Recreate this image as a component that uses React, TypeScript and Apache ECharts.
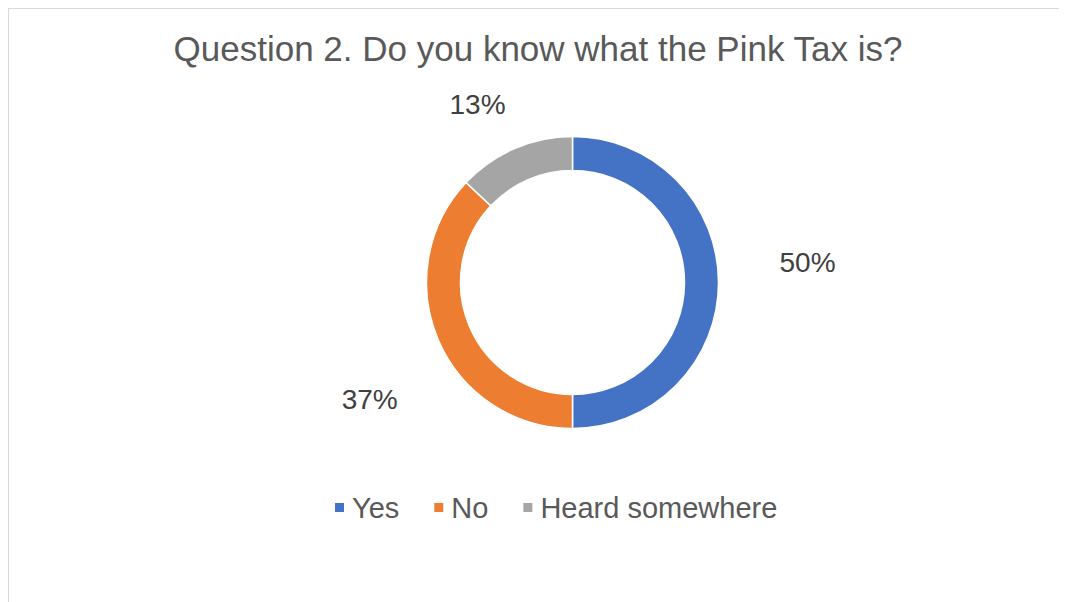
import React, { useEffect, useRef } from "react";
import * as echarts from "echarts";

const TITLE = "Question 2. Do you know what the Pink Tax is?";
const categories = ["Yes", "No", "Heard somewhere"];
const values = [50, 37, 13];
const colors = ["#4472C4", "#ED7D31", "#A5A5A5"];

// label nudges relative to the library's outside label position (px)
const labelNudgeX = [41, -22, 2];
const labelNudgeY = [-20, 53, -30];

const FONT = "'Liberation Sans', Arial, sans-serif";

export default function App() {
  const ref = useRef<HTMLDivElement>(null);
  useEffect(() => {
    if (!ref.current) return;
    const chart = echarts.init(ref.current, undefined, { renderer: "svg" });
    const total = values.reduce((a, b) => a + b, 0);
    chart.setOption({
      animation: false,
      backgroundColor: "#ffffff",
      title: {
        text: TITLE,
        left: "center",
        top: 17,
        textStyle: {
          fontFamily: FONT,
          fontSize: 35,
          fontWeight: "normal",
          color: "#595959",
        },
      },
      legend: {
        data: categories,
        left: 319,
        top: 479,
        icon: "rect",
        itemWidth: 11,
        itemHeight: 11,
        itemGap: 33,
        textStyle: {
          fontFamily: FONT,
          fontSize: 29,
          color: "#595959",
          padding: [0, 0, 0, 2],
        },
      },
      series: [
        {
          type: "pie",
          center: [563.5, 273.5],
          radius: [112, 146],
          startAngle: 90,
          clockwise: true,
          avoidLabelOverlap: false,
          itemStyle: { borderColor: "#ffffff", borderWidth: 1.5 },
          label: {
            show: true,
            position: "outside",
            distanceToLabelLine: 5,
            fontFamily: FONT,
            fontSize: 28,
            color: "#404040",
            formatter: (p: any) => Math.round((p.value / total) * 100) + "%",
          },
          labelLine: { show: false, length: 15, length2: 0 },
          labelLayout: (p: any) => ({
            dx: labelNudgeX[p.dataIndex],
            dy: labelNudgeY[p.dataIndex],
          }),
          emphasis: { disabled: true },
          data: categories.map((name, i) => ({
            name,
            value: values[i],
            itemStyle: { color: colors[i] },
          })),
        },
      ],
    });
    return () => chart.dispose();
  }, []);
  return (
    <div
      ref={ref}
      style={{
        width: 1058,
        height: 593,
        borderTop: "1px solid #d9d9d9",
        borderLeft: "1px solid #d9d9d9",
      }}
    />
  );
}
